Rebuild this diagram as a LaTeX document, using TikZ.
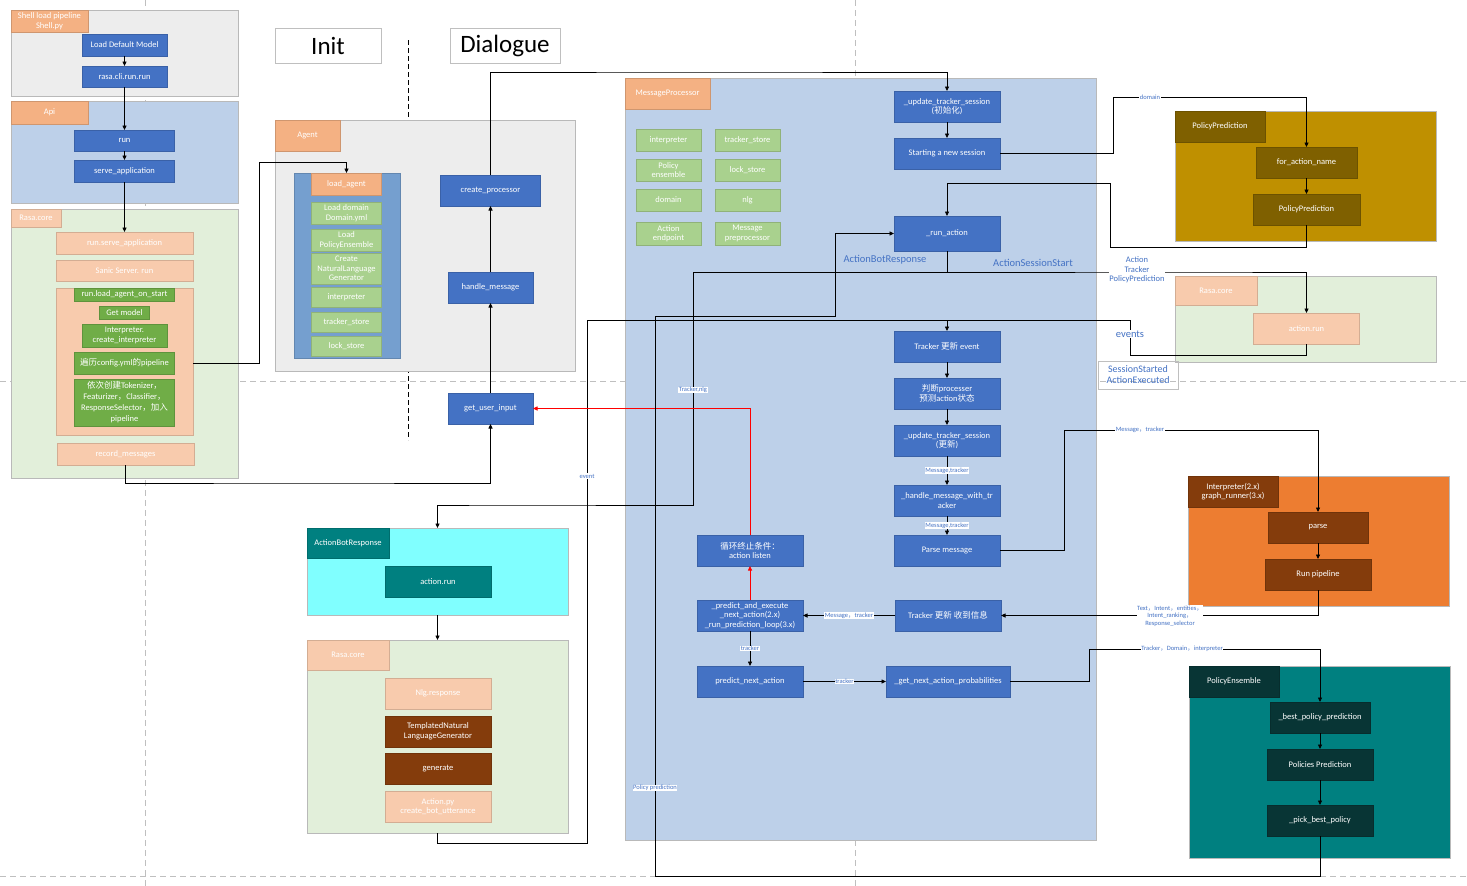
\documentclass[tikz,border=0pt]{standalone}
\usepackage{fontspec}
\setmainfont{Carlito}
\newfontfamily\cjk{Noto Sans CJK SC}
\newcommand\zh[1]{{\cjk #1}}
\usetikzlibrary{arrows.meta}

\definecolor{mblue}{HTML}{4472C4}
\definecolor{peach}{HTML}{F4B183}
\definecolor{lpeach}{HTML}{F8CBAD}
\definecolor{lgreen}{HTML}{A9D18E}
\definecolor{dgreen}{HTML}{70AD47}
\definecolor{bgrey}{HTML}{EDEDED}
\definecolor{bblue}{HTML}{BDD0E9}
\definecolor{bgreen}{HTML}{E2EFDA}
\definecolor{steel}{HTML}{759FCF}
\definecolor{gold}{HTML}{BF9000}
\definecolor{dgold}{HTML}{7F6000}
\definecolor{orng}{HTML}{ED7D31}
\definecolor{brownbox}{HTML}{843C0C}
\definecolor{pteal}{HTML}{008080}
\definecolor{dteal}{HTML}{083535}
\definecolor{cyanbg}{HTML}{80FFFF}

\begin{document}
\begin{tikzpicture}[x=1pt, y=-1pt,
    every node/.style={font=\fontsize{8.5}{9.5}\selectfont, text=white, align=center, inner sep=1pt, outer sep=0pt},
    sz/.style 2 args={minimum width=#1, minimum height=#2},
    panel/.style={anchor=north west, fill=#1, draw=gray!55},
    tag/.style={anchor=north west, fill=#1, draw=#1!85!black},
    bx/.style={anchor=north, fill=#1, draw=#1!85!black},
    title/.style={anchor=north west, draw=gray!50, fill=white, text=black, font=\fontsize{25}{28}\selectfont},
    arr/.style={-{Triangle[length=4.5pt,width=4pt]}, line width=0.8pt},
    wire/.style={line width=0.8pt},
    lbl/.style={font=\fontsize{6.5}{7.5}\selectfont, text=mblue, fill=white, inner sep=0.6pt},
    note/.style={font=\fontsize{10.5}{12}\selectfont, text=mblue},
    guide/.style={gray!50, dash pattern=on 6pt off 4pt}]

    \useasboundingbox (0,0) rectangle (1467,886);
    \fill[white] (0,0) rectangle (1467,886);

    % page guides
    \draw[guide] (0,381) -- (1467,381);
    \draw[guide] (0,876) -- (1467,876);
    \draw[guide] (145,0) -- (145,886);
    \draw[guide] (855,0) -- (855,886);

    % Shell / Api / Rasa.core (left column)
    \node[panel=bgrey, sz={227}{86}] (shell) at (11,10) {};
    \node[tag=peach, sz={77}{22}] (shelltag) at (11,10) {Shell load pipeline\\Shell.py};
    \node[bx=mblue, sz={85}{22}] (defmodel) at (124.5,34) {Load Default Model};
    \node[bx=mblue, sz={85}{21}] (clirun) at (124.5,66) {rasa.cli.run.run};

    \node[panel=bblue, sz={227}{102}] (api) at (11,101) {};
    \node[tag=peach, sz={77}{23}] (apitag) at (11,101) {Api};
    \node[bx=mblue, sz={100}{21}] (run) at (124.5,130) {run};
    \node[bx=mblue, sz={100}{22}] (serveapp) at (124.5,160) {serve\_application};

    \node[panel=bgreen, sz={227}{269}] (core1) at (11,209) {};
    \node[tag=lpeach, sz={50}{18}] (coretag1) at (11,209) {Rasa.core};
    \node[bx=lpeach, sz={137}{22}] (rserve) at (124.5,232) {run.serve\_application};
    \node[bx=lpeach, sz={137}{21}] (sanic) at (124.5,260) {Sanic Server. run};
    \node[bx=lpeach, sz={137}{147}] (onstartgrp) at (124.5,288) {};
    \node[bx=dgreen, sz={100}{13}] (onstart) at (124.5,288) {run.load\_agent\_on\_start};
    \node[bx=dgreen, sz={50}{13}] (getmodel) at (124.5,306) {Get model};
    \node[bx=dgreen, sz={85}{23}] (mkinterp) at (124.5,324) {Interpreter.\\create\_interpreter};
    \node[bx=dgreen, sz={100}{22}] (walkcfg) at (124.5,352) {\zh{遍历}config.yml\zh{的}pipeline};
    \node[bx=dgreen, sz={100}{47}, font=\fontsize{8.5}{11}\selectfont] (mkcomp) at (124.5,379)
        {\zh{依次创建}Tokenizer\zh{，}\\Featurizer\zh{，}Classifier\zh{，}\\ResponseSelector\zh{，加入}\\pipeline};
    \node[bx=lpeach, sz={137}{22}] (record) at (125.5,443) {record\_messages};

    % titles
    \node[title, sz={106}{35}] (init) at (275,28) {Init};
    \node[title, sz={110}{35}] (dialogue) at (450,28) {Dialogue};
    \draw[line width=0.9pt, dash pattern=on 5pt off 3pt] (408,40) -- (408,440);

    % Agent
    \node[panel=bgrey, sz={300}{251}] (agent) at (275,120) {};
    \node[tag=peach, sz={65}{31}] (agenttag) at (275,120) {Agent};
    \node[tag=steel, sz={106}{185}] (agentin) at (294,173) {};
    \node[bx=peach, sz={70}{22}] (loadagent) at (346.5,173) {load\_agent};
    \node[bx=lgreen, sz={70}{22}] (lddomain) at (346.5,202) {Load domain\\Domain.yml};
    \node[bx=lgreen, sz={70}{22}] (ldpolicy) at (346.5,229) {Load\\PolicyEnsemble};
    \node[bx=lgreen, sz={70}{31}] (ldnlg) at (346.5,253) {Create\\NaturalLanguage\\Generator};
    \node[bx=lgreen, sz={70}{20}] (ldinterp) at (346.5,287) {interpreter};
    \node[bx=lgreen, sz={70}{20}] (ldtracker) at (346.5,312) {tracker\_store};
    \node[bx=lgreen, sz={70}{20}] (ldlock) at (346.5,336) {lock\_store};

    % Dialogue column
    \node[bx=mblue, sz={100}{31}] (createproc) at (490.5,175) {create\_processor};
    \node[bx=mblue, sz={85}{31}] (handlemsg) at (490.5,272) {handle\_message};
    \node[bx=mblue, sz={85}{31}] (getinput) at (490.5,393) {get\_user\_input};

    % MessageProcessor
    \node[panel=bblue, sz={471}{762}] (proc) at (625,78) {};
    \node[tag=peach, sz={85}{31}] (proctag) at (625,78) {MessageProcessor};
    \node[bx=lgreen, sz={65}{22}] (pinterp) at (668.5,129) {interpreter};
    \node[bx=lgreen, sz={65}{22}] (ptracker) at (747.5,129) {tracker\_store};
    \node[bx=lgreen, sz={65}{22}] (ppolicy) at (668.5,159) {Policy\\ensemble};
    \node[bx=lgreen, sz={65}{22}] (plock) at (747.5,159) {lock\_store};
    \node[bx=lgreen, sz={65}{22}] (pdomain) at (668.5,189) {domain};
    \node[bx=lgreen, sz={65}{22}] (pnlg) at (747.5,189) {nlg};
    \node[bx=lgreen, sz={65}{23}] (pendpoint) at (668.5,222) {Action\\endpoint};
    \node[bx=lgreen, sz={65}{23}] (ppreproc) at (747.5,222) {Message\\preprocessor};

    \node[bx=mblue, sz={106}{31}] (ts1) at (947,91) {\_update\_tracker\_session\\(\zh{初始化})};
    \node[bx=mblue, sz={106}{31}] (newsess) at (947,138) {Starting a new session};
    \node[bx=mblue, sz={106}{35}] (runact) at (947,216) {\_run\_action};
    \node[note] (abrnote) at (885,260) {ActionBotResponse};
    \node[note] (assnote) at (1033,263) {ActionSessionStart};

    \node[bx=mblue, sz={106}{31}] (tev) at (947,331) {Tracker \zh{更新} event};
    \node[bx=mblue, sz={106}{31}] (judge) at (947,378) {\zh{判断}processer\\\zh{预测}action\zh{状态}};
    \node[bx=mblue, sz={106}{31}] (ts2) at (947,425) {\_update\_tracker\_session\\(\zh{更新})};
    \node[bx=mblue, sz={106}{31}] (hmw) at (947,485) {\_handle\_message\_with\_tr\\acker};
    \node[bx=mblue, sz={106}{31}] (parsemsg) at (947,535) {Parse message};
    \node[bx=mblue, sz={106}{31}] (tnew) at (948,600) {Tracker \zh{更新 收到信息}};
    \node[bx=mblue, sz={106}{31}] (stopc) at (750,535) {\zh{循环终止条件：}\\action listen};
    \node[bx=mblue, sz={106}{31}] (pex) at (750,600) {\_predict\_and\_execute\\\_next\_action(2.x)\\\_run\_prediction\_loop(3.x)};
    \node[bx=mblue, sz={106}{31}] (pna) at (750,666) {predict\_next\_action};
    \node[bx=mblue, sz={124}{31}] (gnap) at (948,666) {\_get\_next\_action\_probabilities};

    % PolicyPrediction
    \node[panel=gold, sz={261}{130}] (ppgrp) at (1175,111) {};
    \node[tag=dgold, sz={90}{31}] (pptag) at (1175,111) {PolicyPrediction};
    \node[bx=dgold, sz={101}{31}] (fan) at (1306.5,147) {for\_action\_name};
    \node[bx=dgold, sz={107}{31}] (pp) at (1306.5,194) {PolicyPrediction};

    % Rasa.core (right)
    \node[panel=bgreen, sz={261}{86}] (rcore) at (1175,276) {};
    \node[tag=lpeach, sz={82}{29}] (rcoretag) at (1175,276) {Rasa.core};
    \node[bx=lpeach, sz={106}{31}] (arun) at (1306.5,313) {action.run};
    \node[draw=gray!50, anchor=north west, sz={80}{28}, text=mblue, font=\fontsize{10}{11}\selectfont] (sessnote) at (1098,361) {SessionStarted\\ActionExecuted};

    % Interpreter
    \node[panel=orng, sz={261}{130}] (intgrp) at (1188,476) {};
    \node[tag=brownbox, sz={90}{31}] (inttag) at (1188,476) {Interpreter(2.x)\\graph\_runner(3.x)};
    \node[bx=brownbox, sz={100}{31}] (parse) at (1318,512) {parse};
    \node[bx=brownbox, sz={106}{31}] (runpipe) at (1318,559) {Run pipeline};

    % PolicyEnsemble
    \node[panel=pteal, sz={261}{192}] (pegrp) at (1189,666) {};
    \node[tag=dteal, sz={90}{31}] (petag) at (1189,666) {PolicyEnsemble};
    \node[bx=dteal, sz={100}{31}] (bpp) at (1320,702) {\_best\_policy\_prediction};
    \node[bx=dteal, sz={106}{31}] (polpred) at (1320,749) {Policies Prediction};
    \node[bx=dteal, sz={106}{31}] (pick) at (1320,805) {\_pick\_best\_policy};

    % ActionBotResponse / Rasa.core (bottom)
    \node[panel=cyanbg, sz={261}{87}] (abr) at (307,528) {};
    \node[tag=pteal, sz={82}{30}] (abrtag) at (307,528) {ActionBotResponse};
    \node[bx=pteal, sz={106}{31}] (abrrun) at (438,566) {action.run};
    \node[panel=bgreen, sz={261}{193}] (core3) at (307,640) {};
    \node[tag=lpeach, sz={82}{30}] (coretag3) at (307,640) {Rasa.core};
    \node[bx=lpeach, sz={106}{31}] (nlgresp) at (438,678) {Nlg.response};
    \node[bx=brownbox, sz={106}{31}] (tmplnlg) at (438,716) {TemplatedNatural\\LanguageGenerator};
    \node[bx=brownbox, sz={106}{31}] (generate) at (438,753) {generate};
    \node[bx=lpeach, sz={106}{31}] (actpy) at (438,791) {Action.py\\create\_bot\_utterance};

    % bend points
    \coordinate (a1) at (259,162);
    \coordinate (a2) at (300,483);
    \coordinate (c1) at (700,72);
    \coordinate (c2) at (1113,97);
    \coordinate (c3) at (1110,247);
    \coordinate (c4) at (947,183);
    \coordinate (c5) at (1200,272);
    \coordinate (c6) at (693,272);
    \coordinate (c7) at (500,505);
    \coordinate (c8) at (655,876);
    \coordinate (c9) at (835,316);
    \coordinate (c10) at (1064,430);
    \coordinate (c11) at (1089,649);
    \coordinate (e0) at (947,320);
    \coordinate (e1) at (587,843);
    \coordinate (e2) at (1130,355);

    % startup flow
    \draw[arr] (defmodel) -- (clirun);
    \draw[arr] (clirun) -- (run);
    \draw[arr] (run) -- (serveapp);
    \draw[arr] (serveapp) -- (rserve);
    \draw[arr] (onstartgrp.east |- walkcfg) -| (a1) -| (loadagent.north);
    \draw[arr] (record.south) |- (a2) -| (getinput.south);
    \draw[arr] (getinput) -- (handlemsg);
    \draw[arr] (handlemsg) -- (createproc);
    \draw[arr] (createproc.north) |- (c1) -| (ts1.north);

    % session start
    \draw[arr] (ts1) -- (newsess);
    \draw[arr] (newsess.east) -| (c2) -| (fan.north);
    \node[lbl] (domlbl) at (1150,97) {domain};
    \draw[arr] (fan) -- (pp);
    \draw[arr] (pp.south) |- (c3) |- (c4) -- (runact.north);
    \draw[arr] (runact.south) |- (c5) -| (arun.north);
    \node[lbl, font=\fontsize{8.5}{9.5}\selectfont] (atplbl) at (1137,270) {Action\\Tracker\\PolicyPrediction};
    \draw[arr] (runact.south) |- (c6) |- (c7) -| (abr.north);
    \node[lbl] (tnlbl) at (693,390) {Tracker,nlg};
    \draw[arr] (abr.south) -- (core3.north);

    % events back to tracker
    \draw[arr] (core3.south) |- (e1) |- (e0) -- (tev.north);
    \draw[wire] (arun.south) |- (e2) |- (e0);
    \node[lbl] (evlbl) at (587,476) {event};
    \node[note, fill=white, inner sep=0.5pt] (evnote) at (1130,334) {events};

    % message handling
    \draw[arr] (tev) -- (judge);
    \draw[arr] (judge) -- (ts2);
    \draw[arr] (ts2) -- node[lbl] (mt1) {Message,tracker} (hmw);
    \draw[arr] (hmw) -- node[lbl] (mt2) {Message,tracker} (parsemsg);
    \draw[arr] (parsemsg.east) -| (c10) -| (parse.north);
    \node[lbl] (mtlbl) at (1140,430) {Message\zh{，}tracker};
    \draw[arr] (parse) -- (runpipe);
    \draw[arr] (runpipe.south) |- (tnew.east);
    \node[lbl] (tielbl) at (1170,616) {Text\zh{，}Intent\zh{，}entities\zh{，}\\Intent\_ranking\zh{，}\\Response\_selector};
    \draw[arr] (tnew) -- node[lbl] (mt3) {Message\zh{，}tracker} (pex);
    \draw[arr, red] (pex) -- (stopc);
    \draw[arr, red] (stopc.north) |- (getinput.east);

    % prediction
    \draw[arr] (pex) -- node[lbl] (tr1) {tracker} (pna);
    \draw[arr] (pna) -- node[lbl] (tr2) {tracker} (gnap);
    \draw[arr] (gnap.east) -| (c11) -| (bpp.north);
    \node[lbl] (tdilbl) at (1182,649) {Tracker\zh{，}Domain\zh{，}interpreter};
    \draw[arr] (bpp) -- (polpred);
    \draw[arr] (polpred) -- (pick);
    \draw[arr] (pick.south) |- (c8) |- (c9) |- (runact.west);
    \node[lbl] (pplbl) at (655,788) {Policy prediction};
\end{tikzpicture}
\end{document}
